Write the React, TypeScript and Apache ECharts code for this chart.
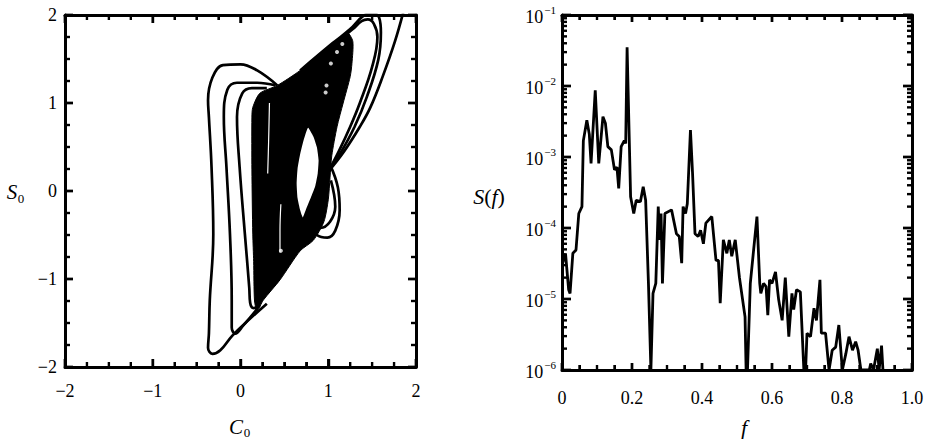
import React, { useEffect, useRef } from 'react';
import * as echarts from 'echarts';

// ---------- Left panel: phase portrait (C0, S0) ----------
const phaseTicks = [-2, -1, 0, 1, 2];
const phaseMinorPerMajor = 4;

// dense (filled) part of the attractor, outline
const attractorCore: number[][] = [
  [0.14, 0.95], [0.22, 1.11], [0.42, 1.2], [0.68, 1.37], [0.9, 1.55], [1.05, 1.68],
  [1.15, 1.76], [1.22, 1.8], [1.28, 1.7], [1.27, 1.45], [1.25, 1.3], [1.17, 1.0],
  [1.1, 0.73], [1.04, 0.4], [1.02, 0.15], [1.0, -0.1], [0.95, -0.35], [0.83, -0.56],
  [0.68, -0.68], [0.45, -1.01], [0.26, -1.24], [0.19, -1.36], [0.16, -1.25],
  [0.15, -0.8], [0.14, -0.49], [0.13, 0.24], [0.13, 0.84],
];
// white lens-shaped hole in the attractor
const attractorHole: number[][] = [
  [0.77, 0.72], [0.83, 0.62], [0.87, 0.5], [0.89, 0.35], [0.88, 0.2], [0.85, 0.05],
  [0.8, -0.08], [0.75, -0.2], [0.71, -0.3], [0.68, -0.22], [0.65, -0.08], [0.64, 0.08],
  [0.65, 0.25], [0.68, 0.42], [0.72, 0.58],
];
// separate trajectory loops
const loopLeft1: number[][] = [
  [0.42, 1.2], [0.19, 1.37], [0.0, 1.44], [-0.2, 1.43], [-0.32, 1.29], [-0.37, 1.03],
  [-0.36, 0.84], [-0.33, 0.27], [-0.31, -0.49], [-0.35, -1.24], [-0.36, -1.62],
  [-0.37, -1.78], [-0.32, -1.85], [-0.23, -1.81], [-0.09, -1.64], [0.11, -1.45], [0.3, -1.28],
];
const loopLeft2: number[][] = [
  [0.4, 1.2], [0.19, 1.23], [-0.04, 1.23], [-0.15, 1.15], [-0.19, 0.84], [-0.16, 0.27],
  [-0.12, -0.49], [-0.1, -1.24], [-0.1, -1.55], [-0.06, -1.62], [0.03, -1.53], [0.19, -1.34],
];
const loopLeft3: number[][] = [
  [0.3, 1.17], [0.13, 1.17], [0.02, 1.11], [-0.04, 0.84], [-0.01, 0.27], [0.05, -0.49],
  [0.1, -1.1], [0.11, -1.27], [0.15, -1.33], [0.22, -1.3],
];
const loopUpperA: number[][] = [
  [1.0, 0.22], [1.12, 0.45], [1.25, 0.73], [1.36, 1.0], [1.5, 1.41], [1.56, 1.75],
  [1.52, 1.9], [1.45, 1.95], [1.38, 1.93], [1.28, 1.84], [1.18, 1.76],
];
const loopUpperB: number[][] = [
  [1.0, 0.22], [1.15, 0.45], [1.3, 0.73], [1.44, 1.07], [1.57, 1.49], [1.6, 1.8],
  [1.58, 1.97], [1.5, 2.02], [1.4, 1.99], [1.25, 1.84], [1.05, 1.68], [0.68, 1.37],
];
const loopUpperC: number[][] = [
  [1.0, 0.22], [1.18, 0.45], [1.36, 0.73], [1.48, 0.95], [1.62, 1.3], [1.76, 1.7], [1.86, 2.05],
];
const loopBulgeOuter: number[][] = [
  [1.02, 0.3], [1.11, 0.04], [1.13, -0.22], [1.08, -0.45], [0.99, -0.53], [0.87, -0.5], [0.83, -0.41],
];
const loopBulgeInner: number[][] = [
  [1.03, 0.12], [1.08, -0.18], [1.02, -0.35], [0.91, -0.42], [0.85, -0.39],
];
const whiteStreak1: number[][] = [[0.33, 1.0], [0.32, 0.55], [0.31, 0.2]];
const whiteStreak2: number[][] = [[0.46, -0.15], [0.45, -0.45], [0.45, -0.7]];
const whiteDots: number[][] = [[1.16, 1.67], [1.03, 1.45], [0.98, 1.2], [0.97, 1.12], [0.46, -0.68], [1.1, 1.58]];

// ---------- Right panel: power spectrum S(f) ----------
const freqTicks = [0, 0.2, 0.4, 0.6, 0.8, 1.0];
const freqMinorPerMajor = 4;
const powerDecades = [1e-6, 1e-5, 1e-4, 1e-3, 1e-2, 1e-1];
const minorMultipliers = [2, 3, 4, 5, 6, 7, 8, 9];
const freq = [
  0.002, 0.01, 0.019, 0.023, 0.031, 0.04, 0.048, 0.057, 0.061, 0.071, 0.078, 0.083, 0.095, 0.105,
  0.117, 0.124, 0.131, 0.141, 0.15, 0.157, 0.162, 0.169, 0.178, 0.182, 0.186, 0.196, 0.205, 0.212,
  0.224, 0.232, 0.239, 0.247, 0.254, 0.256, 0.26, 0.268, 0.275, 0.279, 0.283, 0.287, 0.294, 0.313,
  0.327, 0.335, 0.342, 0.346, 0.353, 0.358, 0.367, 0.373, 0.38, 0.389, 0.396, 0.404, 0.411, 0.428,
  0.44, 0.447, 0.452, 0.461, 0.471, 0.478, 0.485, 0.495, 0.507, 0.523, 0.526, 0.53, 0.538, 0.557,
  0.565, 0.568, 0.576, 0.583, 0.588, 0.593, 0.6, 0.61, 0.619, 0.629, 0.638, 0.648, 0.657, 0.662,
  0.67, 0.681, 0.691, 0.696, 0.7, 0.71, 0.72, 0.727, 0.737, 0.741, 0.753, 0.763, 0.772, 0.782,
  0.791, 0.801, 0.811, 0.82, 0.83, 0.839, 0.846, 0.854, 0.878, 0.882, 0.89, 0.901, 0.906, 0.913, 0.917,
];
const power = [
  3.2e-5, 4.4e-5, 1.35e-5, 1.2e-5, 4.4e-5, 4.9e-5, 1.6e-4, 2.0e-4, 1.7e-3, 3.3e-3, 2.1e-3, 8.1e-4, 8.7e-3, 8.1e-4,
  3.7e-3, 3.0e-3, 1.4e-3, 1.26e-3, 6.6e-4, 7.2e-4, 3.6e-4, 1.4e-3, 1.7e-3, 1.55e-3, 3.5e-2, 2.75e-4, 1.6e-4, 2.45e-4,
  2.35e-4, 3.8e-4, 2.45e-4, 1.66e-5, 1e-6, 1e-6, 1.2e-5, 1.66e-5, 2.0e-4, 6.8e-5, 1.6e-4, 1.66e-5, 1.6e-4, 1.8e-4,
  8.3e-5, 7.6e-5, 3.2e-5, 2.0e-4, 1.6e-4, 2.2e-4, 2.4e-3, 5.9e-4, 8.3e-5, 7.6e-5, 9.3e-5, 6.0e-5, 1.17e-4, 1.45e-4,
  3.5e-5, 3.5e-5, 8.7e-6, 6.8e-5, 4.4e-5, 6.8e-5, 4.0e-5, 6.8e-5, 2.0e-5, 5.6e-6, 1e-6, 1e-6, 1.66e-5, 1.45e-4,
  1.66e-5, 1.2e-5, 1.66e-5, 1.5e-5, 5.9e-6, 1.86e-5, 1.66e-5, 2.4e-5, 9.8e-6, 5.0e-6, 2.0e-5, 2.95e-6, 1.2e-5, 7.1e-6,
  1.35e-5, 1.26e-5, 1e-6, 1e-6, 3.3e-6, 2.95e-6, 7.4e-6, 5.0e-6, 1.86e-5, 3.3e-6, 3.3e-6, 1e-6, 1.9e-6, 2.1e-6,
  4.3e-6, 1e-6, 1.7e-6, 2.95e-6, 1.9e-6, 2.5e-6, 1.9e-6, 1e-6, 1e-6, 1.23e-6, 1e-6, 2.0e-6, 1e-6, 2.2e-6, 1e-6,
];

const FONT = '"Liberation Serif", "Times New Roman", serif';
const INK = '#000';

// subdivide a list of major ticks: returns [value, isMajor]
function subdivide(majors: number[], parts: number): number[][] {
  const out: number[][] = [];
  for (let i = 0; i < majors.length; i++) {
    out.push([majors[i], 1]);
    if (i < majors.length - 1) {
      const step = (majors[i + 1] - majors[i]) / parts;
      for (let k = 1; k < parts; k++) out.push([majors[i] + k * step, 0]);
    }
  }
  return out;
}

function toNum(r: any): number {
  return Array.isArray(r) ? Number(r[0]) : Number(r);
}

export default function App() {
  const ref = useRef<HTMLDivElement>(null);

  useEffect(() => {
    if (!ref.current) return;
    const chart = echarts.init(ref.current, undefined, { renderer: 'svg' });

    const frame = () => ({ show: true, onZero: false, lineStyle: { color: INK, width: 3 } });
    const axTick = (len: number) => ({ show: true, inside: true, length: len, lineStyle: { color: INK, width: 2.4 } });
    const axMinor = () => ({ show: true, splitNumber: 4, length: 5, lineStyle: { color: INK, width: 2 } });
    const labelStyle = { color: INK, fontFamily: FONT, fontSize: 18 };
    const minusFmt = (v: number) => (v < 0 ? '\u2212' + Math.abs(v) : String(v));

    const phaseAxis = (pos: string, labels: boolean) => ({
      type: 'value', gridIndex: 0, position: pos,
      min: phaseTicks[0], max: phaseTicks[phaseTicks.length - 1], interval: 1,
      axisLine: frame(), axisTick: axTick(8), minorTick: axMinor(),
      splitLine: { show: false }, minorSplitLine: { show: false },
      axisLabel: labels ? { ...labelStyle, formatter: minusFmt, margin: pos === 'bottom' ? 15 : 8 } : { show: false },
    });
    const freqAxis = (pos: string, labels: boolean) => ({
      type: 'value', gridIndex: 1, position: pos,
      min: freqTicks[0], max: freqTicks[freqTicks.length - 1], interval: 0.2,
      axisLine: frame(), axisTick: axTick(7), minorTick: axMinor(),
      splitLine: { show: false }, minorSplitLine: { show: false },
      axisLabel: labels
        ? { ...labelStyle, margin: 19, formatter: (v: number) => (v === 0 ? '0' : v.toFixed(1)) }
        : { show: false },
    });
    const logAxis = (pos: string, labels: boolean) => ({
      type: 'log', logBase: 10, gridIndex: 1, position: pos,
      min: powerDecades[0], max: powerDecades[powerDecades.length - 1], splitNumber: 5,
      axisLine: frame(), axisTick: axTick(9), minorTick: { show: false },
      splitLine: { show: false },
      axisLabel: labels
        ? {
            margin: 6,
            formatter: (v: number) => '{b|10}{s|\u2212' + Math.abs(Math.round(Math.log10(v))) + '}',
            rich: {
              b: { fontFamily: FONT, fontSize: 18, color: INK, lineHeight: 22, verticalAlign: 'bottom' },
              s: { fontFamily: FONT, fontSize: 11, color: INK, lineHeight: 22, verticalAlign: 'top', padding: [0, 0, 0, 1] },
            },
          }
        : { show: false },
    });

    const loop = (data: number[][], width = 2.7, color = INK, z = 4) => ({
      type: 'line', xAxisIndex: 0, yAxisIndex: 0, data, showSymbol: false, smooth: 0.4,
      lineStyle: { color, width }, silent: true, z, clip: true,
    });
    const poly = (pts: number[][], fill: string, z: number, smooth: number) => ({
      type: 'custom', xAxisIndex: 0, yAxisIndex: 0, data: [[0, 0]], silent: true, z, clip: true,
      renderItem: (_p: any, api: any) => ({
        type: 'polygon',
        shape: { points: pts.map((p) => api.coord(p)), smooth },
        style: { fill, stroke: fill === INK ? INK : 'none', lineWidth: 1 },
      }),
    });

    const texts: any[] = [
      { type: 'text', x: 236, y: 427, style: { text: 'C', fontFamily: FONT, fontStyle: 'italic', fontSize: 21, fill: INK, align: 'center', verticalAlign: 'middle' } },
      { type: 'text', x: 247, y: 432, style: { text: '0', fontFamily: FONT, fontSize: 13, fill: INK, align: 'center', verticalAlign: 'middle' } },
      { type: 'text', x: 12, y: 192, style: { text: 'S', fontFamily: FONT, fontStyle: 'italic', fontSize: 21, fill: INK, align: 'center', verticalAlign: 'middle' } },
      { type: 'text', x: 21, y: 198, style: { text: '0', fontFamily: FONT, fontSize: 13, fill: INK, align: 'center', verticalAlign: 'middle' } },
      {
        type: 'text', x: 489, y: 196,
        style: {
          text: '{i|S}{n|(}{i|f}{n|)}', align: 'center', verticalAlign: 'middle',
          rich: {
            i: { fontFamily: FONT, fontStyle: 'italic', fontSize: 22, fill: INK },
            n: { fontFamily: FONT, fontSize: 22, fill: INK },
          },
        },
      },
      { type: 'text', x: 744, y: 427, style: { text: 'f', fontFamily: FONT, fontStyle: 'italic', fontSize: 22, fill: INK, align: 'center', verticalAlign: 'middle' } },
    ];

    chart.setOption({
      animation: false,
      grid: [
        { left: 65, top: 15, width: 351, height: 352 },
        { left: 562, top: 15, width: 350, height: 355 },
      ],
      xAxis: [phaseAxis('bottom', true), phaseAxis('top', false), freqAxis('bottom', true), freqAxis('top', false)],
      yAxis: [phaseAxis('left', true), phaseAxis('right', false), logAxis('left', true), logAxis('right', false)],
      graphic: { elements: texts },
      series: [
        poly(attractorCore, INK, 2, 0.25),
        poly(attractorHole, '#fff', 3, 0.15),
        loop(whiteStreak1, 1.2, '#fff', 3),
        loop(whiteStreak2, 1.2, '#fff', 3),
        {
          type: 'scatter', xAxisIndex: 0, yAxisIndex: 0, data: whiteDots, symbolSize: 4,
          itemStyle: { color: '#fff' }, silent: true, z: 3,
        },
        loop(loopLeft1), loop(loopLeft2), loop(loopLeft3),
        loop(loopUpperA), loop(loopUpperB), loop(loopUpperC),
        loop(loopBulgeOuter), loop(loopBulgeInner),
        {
          type: 'line', xAxisIndex: 2, yAxisIndex: 2,
          data: freq.map((f, i) => [f, power[i]]),
          showSymbol: false, lineStyle: { color: INK, width: 2.8 }, silent: true, z: 4, clip: true,
        },
      ],
    });

    // ---- inward tick marks on all four sides, positioned through the axes' own scales ----
    const ticks: any[] = [];
    const seg = (x1: number, y1: number, x2: number, y2: number) =>
      ticks.push({ type: 'line', silent: true, z: 100, shape: { x1, y1, x2, y2 }, style: { stroke: INK, lineWidth: 2.4 } });
    const px = (axis: number, v: number) => toNum(chart.convertToPixel({ xAxisIndex: axis }, v));
    const py = (axis: number, v: number) => toNum(chart.convertToPixel({ yAxisIndex: axis }, v));

    const phaseList = subdivide(phaseTicks, phaseMinorPerMajor);
    const pLo = phaseTicks[0];
    const pHi = phaseTicks[phaseTicks.length - 1];
    const l0 = px(0, pLo), r0 = px(0, pHi), b0 = py(0, pLo), t0 = py(0, pHi);
    for (const [v, major] of phaseList) {
      const len = major ? 8 : 5;
      const x = px(0, v);
      const y = py(0, v);
      seg(x, b0, x, b0 - len);
      seg(x, t0, x, t0 + len);
      seg(l0, y, l0 + len, y);
      seg(r0, y, r0 - len, y);
    }

    const freqList = subdivide(freqTicks, freqMinorPerMajor);
    const l1 = px(2, freqTicks[0]);
    const r1 = px(2, freqTicks[freqTicks.length - 1]);
    const b1 = py(2, powerDecades[0]);
    const t1 = py(2, powerDecades[powerDecades.length - 1]);
    for (const [v, major] of freqList) {
      const len = major ? 7 : 5;
      const x = px(2, v);
      seg(x, b1, x, b1 - len);
      seg(x, t1, x, t1 + len);
    }
    for (let i = 0; i < powerDecades.length; i++) {
      const yMaj = py(2, powerDecades[i]);
      seg(l1, yMaj, l1 + 9, yMaj);
      seg(r1, yMaj, r1 - 9, yMaj);
      if (i < powerDecades.length - 1) {
        for (const m of minorMultipliers) {
          const y = py(2, m * powerDecades[i]);
          seg(l1, y, l1 + 5, y);
          seg(r1, y, r1 - 5, y);
        }
      }
    }
    const valid = ticks.filter((t) => [t.shape.x1, t.shape.y1, t.shape.x2, t.shape.y2].every((n) => isFinite(n)));
    chart.setOption({ graphic: { elements: [...texts, ...valid] } });

    return () => chart.dispose();
  }, []);

  return (
    <div
      ref={ref}
      style={{ position: 'fixed', left: 0, top: 0, width: 928, height: 439, background: '#fff' }}
    />
  );
}
